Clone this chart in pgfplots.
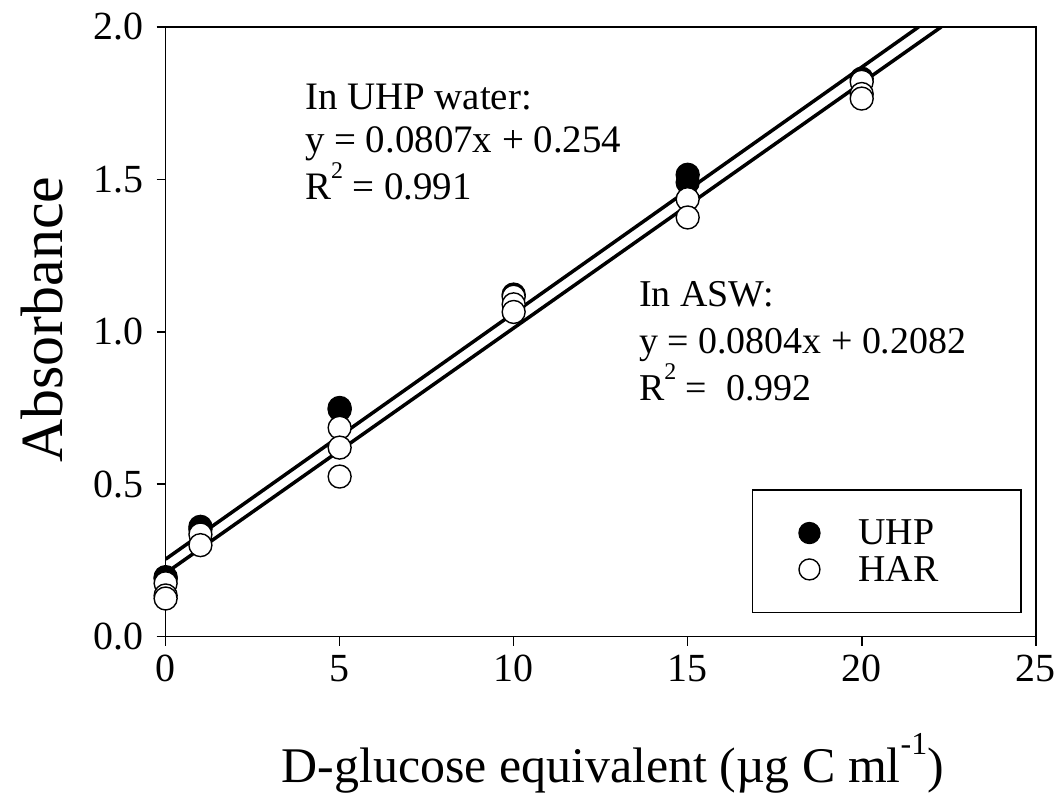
\documentclass[border=0pt]{standalone}
\usepackage{pgfplots}
\pgfplotsset{compat=1.18}
\usepackage{fontspec}
\setmainfont{Liberation Serif}
\newcommand{\sq}{\raisebox{0.55em}{\fontsize{24}{26}\selectfont 2}}
\begin{document}
\begin{tikzpicture}
\begin{axis}[
  scale only axis,
  width=872pt, height=611pt,
  xmin=0, xmax=25, ymin=0, ymax=2.0,
  xtick={0,5,10,15,20,25},
  ytick={0,0.5,1.0,1.5,2.0},
  yticklabel style={/pgf/number format/fixed, /pgf/number format/fixed zerofill, /pgf/number format/precision=1},
  /pgf/number format/assume math mode=true,
  tick label style={font=\fontsize{40}{44}\selectfont},
  xtick pos=bottom, ytick pos=left,
  tick align=outside,
  major tick length=9pt,
  axis line style={line width=1.6pt},
  every tick/.style={black, line width=1.6pt},
  xticklabel style={yshift=-6pt},
  yticklabel style={xshift=-10pt},
  xlabel={D-glucose equivalent (µg C ml\raisebox{0.55em}{\fontsize{32}{34}\selectfont -1})},
  ylabel={Absorbance},
  xlabel style={font=\fontsize{50}{60}\selectfont, at={(axis description cs:0.514,0)}, anchor=center, yshift=-127pt},
  ylabel style={font=\fontsize{60}{70}\selectfont, at={(axis description cs:-0.142,0.52)}, anchor=center},
  legend style={at={(0.984,0.038)}, anchor=south east, draw=black, line width=1.6pt,
    font=\fontsize{38}{42}\selectfont, inner xsep=45pt, inner ysep=28pt, row sep=6pt,
    /tikz/every odd column/.append style={column sep=35pt}},
  legend cell align=left,
  legend image code/.code={\path[draw=none] (0pt,-11pt) rectangle (24pt,11pt); \draw[#1, mark size=10.5pt] plot coordinates {(12pt,0pt)};},
]
\addplot[black, line width=3.5pt, forget plot] coordinates {(0,0.254) (21.636,2.0)};
\addplot[black, line width=3.5pt, forget plot] coordinates {(0,0.2082) (22.286,2.0)};
\addplot[only marks, mark=*, mark size=11.5pt, mark options={fill=black, draw=black, line width=1.4pt}] coordinates {
 (0,0.195) (0,0.19) (1,0.36) (1,0.352) (5,0.75) (5,0.745) (10,1.122) (15,1.515) (15,1.49) (20,1.83)
};
\addlegendentry{\makebox[116pt][l]{UHP}}
\addplot[only marks, mark=*, mark size=11.5pt, mark options={fill=white, draw=black, line width=1.4pt}] coordinates {
 (0,0.175) (0,0.135) (0,0.125) (1,0.335) (1,0.30) (5,0.685) (5,0.62) (5,0.525)
 (10,1.115) (10,1.09) (10,1.065) (15,1.435) (15,1.375) (20,1.82) (20,1.78) (20,1.765)
};
\addlegendentry{\makebox[116pt][l]{HAR}}
\node[anchor=north west, align=left, inner sep=0pt, font=\fontsize{39}{44}\selectfont] at (axis cs:4.0,1.815)
  {In UHP water:\\y = 0.0807x + 0.254\\R\sq{} = 0.991};
\node[anchor=north west, align=left, inner sep=0pt, font=\fontsize{38}{47}\selectfont] at (axis cs:13.6,1.165)
  {In ASW:\\y = 0.0804x + 0.2082\\R\sq{} =\ \ 0.992};
\end{axis}
\path[use as bounding box] (current axis.south west) ++(-166pt,-151pt) rectangle ++(1059pt,789pt);
\end{tikzpicture}
\end{document}
